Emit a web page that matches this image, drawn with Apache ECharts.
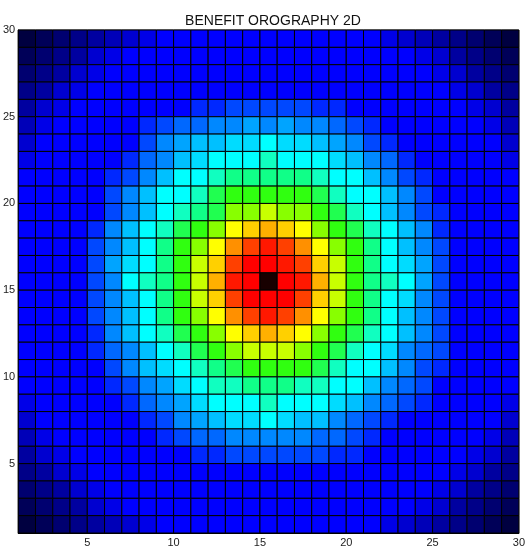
<!DOCTYPE html>
<html>
<head>
<meta charset="utf-8">
<script src="https://cdn.jsdelivr.net/npm/echarts@6/dist/echarts.min.js"></script>
<style>
  html, body { margin: 0; background: #fff; }
  #main { width: 528px; height: 551px; }
</style>
</head>
<body>
<div id="main"></div>
<script>
// colour level of each cell
// top row first (y 29..30), columns left to right (x 1..29)
const levels = [
  [0,1,2,3,4,5,6,7,8,8,8,8,8,8,8,8,8,8,8,8,8,7,6,5,4,3,2,1,0],
  [1,2,3,4,6,7,8,8,8,8,8,8,8,8,8,8,8,8,8,8,8,8,8,7,6,4,3,2,1],
  [2,3,4,6,7,8,8,8,8,8,8,8,8,8,8,8,8,8,8,8,8,8,8,8,7,6,4,3,2],
  [3,4,6,7,8,8,8,8,8,8,8,8,8,8,8,8,8,8,8,8,8,8,8,8,8,7,6,4,3],
  [4,6,7,8,8,8,8,8,8,8,9,9,10,10,10,10,10,9,9,8,8,8,8,8,8,8,7,6,4],
  [5,7,8,8,8,8,8,9,10,11,11,12,12,13,12,13,12,12,11,10,9,8,8,8,8,8,8,7,5],
  [6,8,8,8,8,8,8,10,12,13,14,14,15,15,16,15,15,14,13,12,10,9,8,8,8,8,8,8,6],
  [7,8,8,8,8,8,9,11,12,14,15,16,16,16,17,16,16,16,15,14,12,11,9,8,8,8,8,8,7],
  [8,8,8,8,8,9,10,12,14,16,16,17,18,18,18,18,18,17,16,16,14,12,10,9,8,8,8,8,8],
  [8,8,8,8,8,10,12,14,16,16,17,19,20,20,20,20,20,19,17,16,16,14,12,10,8,8,8,8,8],
  [8,8,8,8,8,10,12,14,16,17,18,19,21,21,22,21,21,20,19,17,16,14,12,10,9,8,8,8,8],
  [8,8,8,8,9,12,14,16,17,19,20,21,23,24,25,24,23,21,20,19,17,16,14,12,9,8,8,8,8],
  [8,8,8,8,10,12,14,16,18,20,21,23,26,27,28,27,26,23,21,20,18,16,14,12,10,8,8,8,8],
  [8,8,8,8,10,13,15,16,18,20,22,24,27,29,29,28,27,24,22,20,18,16,15,13,10,8,8,8,8],
  [8,8,8,8,10,12,16,17,18,20,22,25,28,29,30,29,28,25,22,20,18,17,16,13,10,8,8,8,8],
  [8,8,8,8,10,12,14,16,18,20,22,24,27,29,29,29,27,24,22,20,18,16,15,12,10,8,8,8,8],
  [8,8,8,8,10,12,14,16,18,20,21,23,26,27,28,27,26,23,21,20,18,16,14,12,10,8,8,8,8],
  [8,8,8,8,9,12,14,16,17,19,20,21,23,24,25,24,23,21,20,19,17,16,14,12,10,8,8,8,8],
  [8,8,8,8,9,11,12,14,16,17,19,20,21,22,22,22,21,20,19,17,16,15,12,11,10,8,8,8,8],
  [8,8,8,8,8,10,12,14,15,16,17,18,19,20,20,20,20,19,17,16,16,14,12,10,9,8,8,8,8],
  [8,8,8,8,8,9,10,12,13,15,16,17,17,18,18,18,17,17,16,16,14,12,11,10,8,8,8,8,8],
  [7,8,8,8,8,8,9,11,12,13,15,16,16,16,17,16,16,16,15,14,12,11,10,9,8,8,8,8,7],
  [6,8,8,8,8,8,8,9,10,12,13,14,15,15,16,15,14,14,12,11,10,9,8,8,8,8,8,8,6],
  [5,7,8,8,8,8,8,8,9,10,11,11,12,12,12,12,12,11,11,10,9,8,8,8,8,8,8,7,5],
  [4,6,7,8,8,8,8,8,8,8,9,9,10,10,10,10,10,10,9,9,8,8,8,8,8,8,7,6,4],
  [3,4,6,7,8,8,8,8,8,8,8,8,8,8,8,8,8,8,8,8,8,8,8,8,8,7,6,4,3],
  [2,3,4,6,7,8,8,8,8,8,8,8,8,8,8,8,8,8,8,8,8,8,8,8,7,6,4,3,2],
  [1,2,3,4,6,7,8,8,8,8,8,8,8,8,8,8,8,8,8,8,8,8,8,7,6,4,3,2,1],
  [0,1,2,3,4,5,6,7,8,8,8,8,8,8,8,8,8,8,8,8,8,7,6,5,4,3,2,1,0]
];
const xTicks = [5, 10, 15, 20, 25, 30];
const yTicks = [5, 10, 15, 20, 25, 30];

// jet-like colour for each level
const palette = [
  '#000040', '#000058', '#000070', '#000088', '#0000a0', '#0000b8', '#0000d0', '#0000e8',
  '#0000ff', '#0028ff', '#0048ff', '#0068ff', '#0088ff', '#00a4ff', '#00c0ff', '#00dcff',
  '#00ffff', '#10ffc0', '#10ff88', '#20ff50', '#30ff10', '#88ff00', '#c8ff00', '#ffff00',
  '#ffd000', '#ffb000', '#ff9000', '#ff4000', '#ff1800', '#ff0000', '#180000'
];

// [x of left edge, y of bottom edge, level]
const cells = [];
levels.forEach((row, r) => {
  row.forEach((lv, c) => cells.push([c + 1, levels.length - r, lv]));
});

const chart = echarts.init(document.getElementById('main'));

const axisFont = { color: '#222', fontSize: 11, fontFamily: 'Liberation Sans, Arial, sans-serif' };

chart.setOption({
  animation: false,
  title: {
    text: 'BENEFIT OROGRAPHY 2D',
    left: 268,
    top: 9,
    textAlign: 'center',
    textStyle: { fontSize: 14, fontWeight: 'normal', color: '#111', fontFamily: 'Liberation Sans, Arial, sans-serif' }
  },
  grid: { left: 16, right: 5, top: 30, bottom: 18, show: true, borderColor: '#444', borderWidth: 1 },
  xAxis: {
    type: 'value',
    min: 1,
    max: 30,
    splitLine: { show: false },
    axisTick: { show: false },
    axisLine: { show: true, lineStyle: { color: '#000' } },
    axisLabel: Object.assign({ customValues: xTicks, margin: 4 }, axisFont)
  },
  yAxis: {
    type: 'value',
    min: 1,
    max: 30,
    splitLine: { show: false },
    axisTick: { show: false },
    axisLine: { show: true, lineStyle: { color: '#000' } },
    axisLabel: Object.assign({ customValues: yTicks, margin: 3 }, axisFont)
  },
  series: [{
    type: 'custom',
    data: cells,
    encode: { x: 0, y: 1 },
    renderItem: function (params, api) {
      const x = api.value(0);
      const y = api.value(1);
      const p0 = api.coord([x, y + 1]);
      const p1 = api.coord([x + 1, y]);
      return {
        type: 'rect',
        shape: { x: p0[0], y: p0[1], width: p1[0] - p0[0], height: p1[1] - p0[1] },
        style: { fill: palette[api.value(2)], stroke: '#000', lineWidth: 1 }
      };
    }
  }]
});
</script>
</body>
</html>
